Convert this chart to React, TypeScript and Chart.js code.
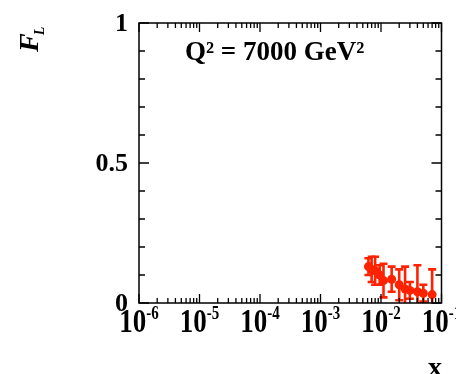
import React, { useEffect, useRef } from "react";
import { Chart, registerables } from "chart.js";

Chart.register(...registerables);

// ---- data ----
const xValues = [0.0062, 0.007, 0.008, 0.0095, 0.011, 0.015, 0.02, 0.025, 0.03, 0.04, 0.05, 0.07];
const flValues = [0.13, 0.12, 0.115, 0.1, 0.08, 0.085, 0.065, 0.05, 0.045, 0.04, 0.035, 0.03];
const flErrors = [0.03, 0.045, 0.05, 0.035, 0.06, 0.045, 0.055, 0.08, 0.03, 0.095, 0.03, 0.09];

const xTickExponents = [-6, -5, -4, -3, -2, -1];
const yTickValues = [0, 0.5, 1];
const yTickLabels = ["0", "0.5", "1"];
const titleText = "Q\u00B2 = 7000 GeV\u00B2";
const yAxisTitle = "F";
const yAxisSub = "L";
const xAxisTitle = "x";

const RED = "#ff2200";
const SERIF = '"Liberation Serif", "Times New Roman", serif';

const rootPlugin = {
  id: "rootDecor",
  beforeDatasetsDraw(chart: any) {
    const ctx = chart.ctx;
    const xs = chart.scales.x;
    const ys = chart.scales.y;
    ctx.save();
    ctx.strokeStyle = RED;
    ctx.lineWidth = 2.6;
    for (let i = 0; i < xValues.length; i++) {
      const px = xs.getPixelForValue(xValues[i]);
      const top = ys.getPixelForValue(flValues[i] + flErrors[i]);
      const bot = ys.getPixelForValue(Math.max(0, flValues[i] - flErrors[i]));
      ctx.beginPath();
      ctx.moveTo(px, top);
      ctx.lineTo(px, bot);
      ctx.moveTo(px - 4, top);
      ctx.lineTo(px + 4, top);
      if (flValues[i] - flErrors[i] > 0) {
        ctx.moveTo(px - 4, bot);
        ctx.lineTo(px + 4, bot);
      }
      ctx.stroke();
    }
    ctx.restore();
  },
  afterDraw(chart: any) {
    const ctx = chart.ctx;
    const xs = chart.scales.x;
    const ys = chart.scales.y;
    const { left, right, top, bottom } = chart.chartArea;
    ctx.save();
    ctx.strokeStyle = "#000";
    ctx.lineWidth = 1.5;
    ctx.strokeRect(left, top, right - left, bottom - top);

    // x ticks (log), inward on bottom and top
    ctx.lineWidth = 1.3;
    ctx.beginPath();
    for (let k = -6; k <= -1; k++) {
      for (let m = 1; m <= 9; m++) {
        const v = m * Math.pow(10, k);
        if (v > 0.1 * 1.0001) break;
        const px = xs.getPixelForValue(v);
        const len = m === 1 ? 9 : 5;
        ctx.moveTo(px, bottom);
        ctx.lineTo(px, bottom - len);
        ctx.moveTo(px, top);
        ctx.lineTo(px, top + len);
      }
    }
    // y ticks
    for (let i = 0; i <= 10; i++) {
      const v = i / 10;
      const py = ys.getPixelForValue(v);
      const len = i % 5 === 0 ? 10 : 6;
      ctx.moveTo(left, py);
      ctx.lineTo(left + len, py);
      ctx.moveTo(right, py);
      ctx.lineTo(right - len, py);
    }
    ctx.stroke();

    ctx.fillStyle = "#000";
    // x tick labels (slightly tall, as in the reference)
    for (const e of xTickExponents) {
      const px = xs.getPixelForValue(Math.pow(10, e));
      ctx.font = `bold 27px ${SERIF}`;
      const w1 = ctx.measureText("10").width;
      ctx.font = `bold 15px ${SERIF}`;
      const es = String(e);
      const w2 = ctx.measureText(es).width;
      const start = px - (w1 + w2) / 2;
      ctx.save();
      ctx.translate(0, bottom + 29);
      ctx.scale(1, 1.22);
      ctx.textAlign = "left";
      ctx.textBaseline = "alphabetic";
      ctx.font = `bold 27px ${SERIF}`;
      ctx.fillText("10", start, 0);
      ctx.font = `bold 15px ${SERIF}`;
      ctx.fillText(es, start + w1, -10.5);
      ctx.restore();
    }
    // y tick labels
    ctx.font = `bold 26px ${SERIF}`;
    ctx.textAlign = "right";
    ctx.textBaseline = "middle";
    yTickValues.forEach((v, i) => {
      ctx.fillText(yTickLabels[i], left - 11, ys.getPixelForValue(v) + 1);
    });

    // title inside plot
    ctx.font = `bold 27px ${SERIF}`;
    ctx.textAlign = "left";
    ctx.textBaseline = "alphabetic";
    ctx.fillText(titleText, 185, 60);

    // x axis title
    ctx.font = `bold 28px ${SERIF}`;
    ctx.fillText(xAxisTitle, 428, 376);

    // y axis title (rotated)
    ctx.save();
    ctx.translate(38, 52);
    ctx.rotate(-Math.PI / 2);
    ctx.font = `bold italic 28px ${SERIF}`;
    ctx.fillText(yAxisTitle, 0, 0);
    const fw = ctx.measureText(yAxisTitle).width;
    ctx.font = `bold italic 14px ${SERIF}`;
    ctx.fillText(yAxisSub, fw - 2, 6);
    ctx.restore();

    ctx.restore();
  },
};

export default function App() {
  const ref = useRef<HTMLCanvasElement | null>(null);
  useEffect(() => {
    if (!ref.current) return;
    const chart = new Chart(ref.current, {
      type: "scatter",
      data: {
        datasets: [
          {
            data: xValues.map((x, i) => ({ x, y: flValues[i] })),
            backgroundColor: RED,
            borderColor: RED,
            pointRadius: 4.5,
            pointBorderWidth: 0,
            showLine: false,
          },
        ],
      },
      options: {
        animation: false,
        responsive: false,
        events: [],
        layout: { padding: { left: 139, right: 14.5, top: 23, bottom: 71 } },
        plugins: { legend: { display: false }, tooltip: { enabled: false }, title: { display: false } },
        scales: {
          x: {
            type: "logarithmic",
            min: 1e-6,
            max: 0.1,
            grid: { display: false },
            border: { display: false },
            ticks: { display: false },
            afterFit: (s: any) => { s.height = 0; },
          },
          y: {
            type: "linear",
            min: 0,
            max: 1,
            grid: { display: false },
            border: { display: false },
            ticks: { display: false },
            afterFit: (s: any) => { s.width = 0; },
          },
        },
      },
      plugins: [rootPlugin],
    } as any);
    return () => chart.destroy();
  }, []);
  return (
    <div style={{ position: "fixed", left: 0, top: 0, width: 456, height: 374, background: "#fff" }}>
      <canvas ref={ref} width={456} height={374} style={{ display: "block" }} />
    </div>
  );
}
